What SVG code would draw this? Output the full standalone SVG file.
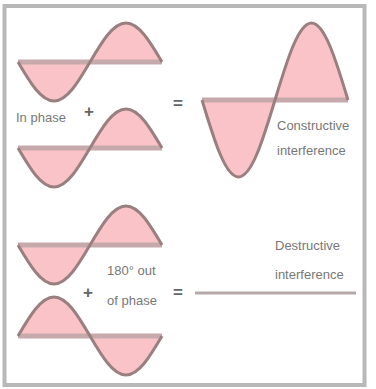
<svg xmlns="http://www.w3.org/2000/svg" xmlns:xlink="http://www.w3.org/1999/xlink" width="376" height="389" viewBox="0 0 376 389">
<style>
.fill{fill:#f9c3c7;stroke:none}
.curve{fill:none;stroke:#9a7f80;stroke-width:3;stroke-linejoin:round}
.base{stroke:#c6aaab;stroke-width:5}
.lbl{font-family:"Liberation Sans",Arial,sans-serif;font-size:13px;fill:#777}
.op{font-family:"Liberation Sans",Arial,sans-serif;font-weight:bold;fill:#666;text-anchor:middle}
</style>
<defs>
<path id="w" d="M0,0 c11.74,19.98 22.97,39 36,39 c13.03,0 24.26,-19.02 36,-39 c11.74,-19.98 22.97,-39 36,-39 c13.03,0 24.26,19.02 36,39"/>
<path id="bw" d="M0,0 c11.9,39.45 23.29,77 36.5,77 c13.21,0 24.6,-37.55 36.5,-77 c11.9,-39.45 23.29,-77 36.5,-77 c13.21,0 24.6,37.55 36.5,77"/>
<g id="wave">
<use xlink:href="#w" class="fill"/>
<line x1="0" y1="0" x2="144" y2="0" class="base"/>
<use xlink:href="#w" class="curve"/>
</g>
</defs>
<rect x="4.5" y="6" width="360" height="379" fill="#fff" stroke="#b8b8b8" stroke-width="4"/>
<g id="wave-in-phase-1"><use xlink:href="#wave" transform="translate(18,62)"/></g>
<g id="wave-in-phase-2"><use xlink:href="#wave" transform="translate(18,148)"/></g>
<g id="label-in-phase"><text class="lbl" x="16" y="122">In phase</text></g>
<g id="plus-1"><text class="op" x="89" y="117" font-size="17">+</text></g>
<g id="equals-1"><text class="op" x="178" y="109" font-size="17">=</text></g>
<g id="wave-constructive">
<use xlink:href="#bw" class="fill" transform="translate(202,100)"/>
<line x1="202" y1="100" x2="348" y2="100" class="base"/>
<use xlink:href="#bw" class="curve" transform="translate(202,100)"/>
</g>
<g id="label-constructive"><text class="lbl" x="277" y="130">Constructive</text><text class="lbl" x="277" y="155">interference</text></g>
<g id="wave-out-1"><use xlink:href="#wave" transform="translate(18,245)"/></g>
<g id="wave-out-2"><use xlink:href="#wave" transform="translate(18,336) scale(1,-1)"/></g>
<g id="label-out-of-phase"><text class="lbl" x="107" y="275">180° out</text><text class="lbl" x="107" y="305">of phase</text></g>
<g id="plus-2"><text class="op" x="88" y="298" font-size="17">+</text></g>
<g id="equals-2"><text class="op" x="178" y="298" font-size="17">=</text></g>
<g id="wave-destructive"><line x1="195" y1="293" x2="356" y2="293" stroke="#b5a9aa" stroke-width="3"/></g>
<g id="label-destructive"><text class="lbl" x="275" y="250">Destructive</text><text class="lbl" x="275" y="279">interference</text></g>
</svg>
